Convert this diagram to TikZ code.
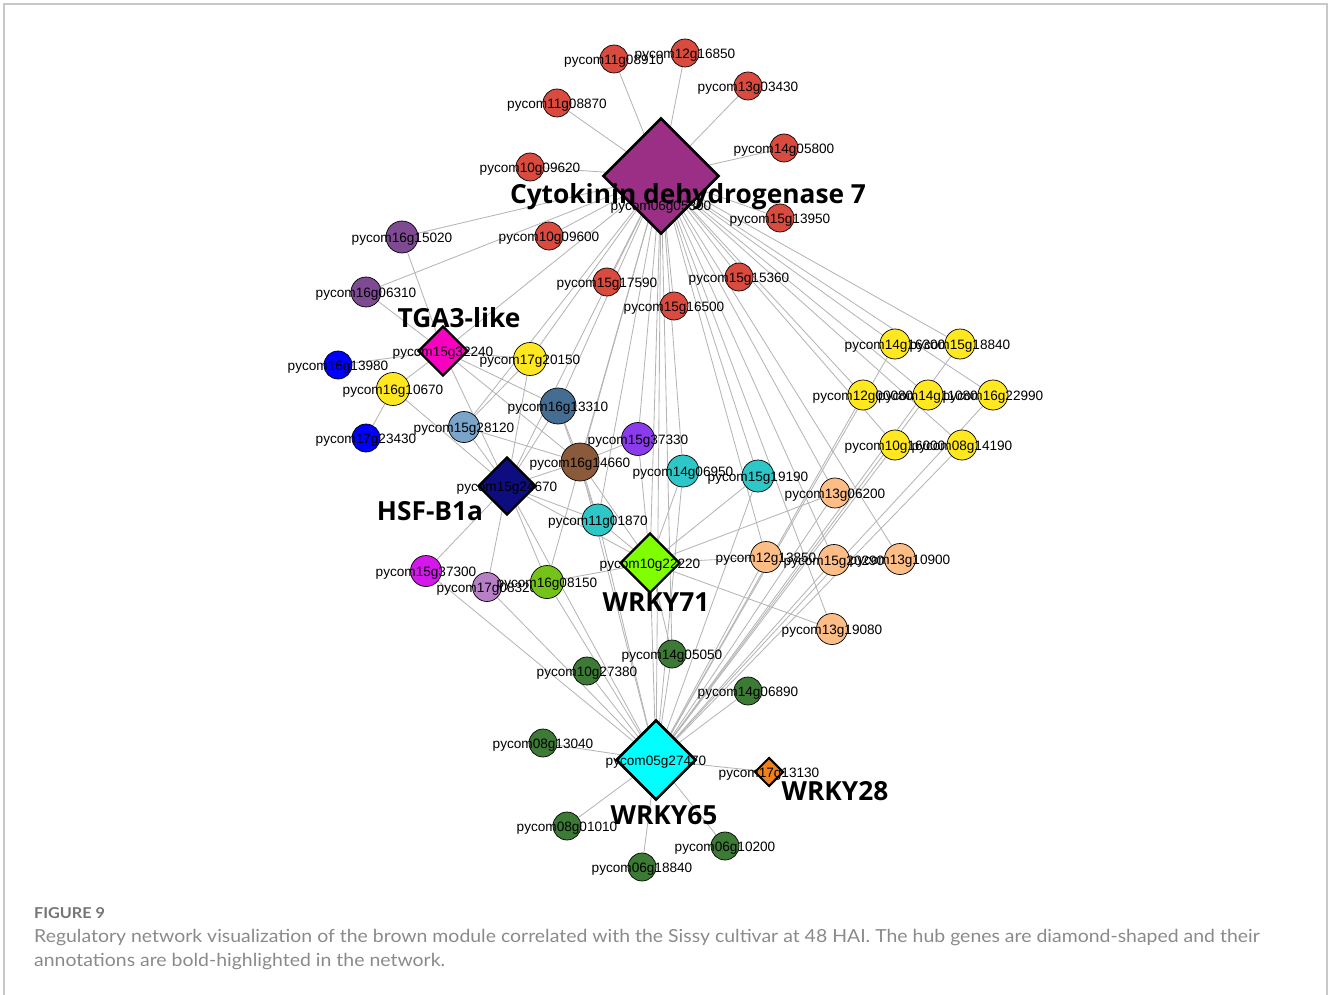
\documentclass[tikz,border=0pt]{standalone}
\usepackage{fontspec}
\usetikzlibrary{shapes.geometric,backgrounds}
\newfontfamily\genefont{Liberation Sans}
\newfontfamily\hubfont{Open Sans}
\newfontfamily\capfont[FakeStretch=1.08]{Lato}
\definecolor{linkgray}{HTML}{B5B5B5}
\definecolor{framegray}{HTML}{C8C8C8}
\definecolor{capgray}{HTML}{8A8A8A}
\definecolor{ckxpurple}{HTML}{9B2F86}
\definecolor{ckred}{HTML}{D94A3F}
\definecolor{plum}{HTML}{7E4B93}
\definecolor{hotpink}{HTML}{F700C0}
\definecolor{pureblue}{HTML}{0000FF}
\definecolor{gold}{HTML}{FFE81F}
\definecolor{steel}{HTML}{456D91}
\definecolor{lightsteel}{HTML}{7AA4C9}
\definecolor{violet}{HTML}{8A3BEB}
\definecolor{bark}{HTML}{8A5A3A}
\definecolor{teal}{HTML}{2EC7C7}
\definecolor{navy}{HTML}{0D0D80}
\definecolor{peach}{HTML}{FCBD86}
\definecolor{lime}{HTML}{80FF00}
\definecolor{fuchsia}{HTML}{D417EB}
\definecolor{orchid}{HTML}{B67FC6}
\definecolor{grass}{HTML}{74C21A}
\definecolor{forest}{HTML}{3D7A36}
\definecolor{aqua}{HTML}{00FFFF}
\definecolor{amber}{HTML}{F08018}
\tikzset{
  gene/.style={circle, draw=black, line width=0.7pt, minimum size=28pt, inner sep=0pt},
  hub/.style={diamond, draw=black, line width=2.6pt, inner sep=0pt, aspect=1},
  hubname/.style={font=\fontsize{26.3}{30}\selectfont\hubfont\bfseries, inner sep=0pt},
  link/.style={draw=linkgray, line width=0.85pt},
  every label/.style={font=\fontsize{13.6}{15}\selectfont\genefont, inner sep=0pt, yshift=-2pt}
}
\begin{document}
\begin{tikzpicture}[x=1pt,y=-1pt]
\useasboundingbox (0,0) rectangle (1328,995);
\draw[framegray, line width=1.2pt] (4,995) -- (4,4) -- (1327,4) -- (1327,995);

% hub genes
\node[hub, fill=ckxpurple, minimum size=116pt, label={[yshift=-29pt]center:pycom06g05300}] (ckx) at (661,176) {};
\node[hub, fill=hotpink, minimum size=50pt, line width=2.2pt, label=center:pycom15g32240] (tga) at (443,351) {};
\node[hub, fill=navy, minimum size=58pt, line width=2.2pt, label=center:pycom15g24670] (hsf) at (507,486) {};
\node[hub, fill=lime, minimum size=60pt, line width=2.2pt, label=center:pycom10g22220] (w71) at (650,563) {};
\node[hub, fill=aqua, minimum size=80pt, label=center:pycom05g27470] (w65) at (656,760) {};
\node[hub, fill=amber, minimum size=29pt, line width=2pt, label=center:pycom17g13130] (w28) at (769,772) {};

% red cluster
\node[gene, fill=ckred, label=center:pycom11g08910] (p11g08910) at (614,59) {};
\node[gene, fill=ckred, label=center:pycom12g16850] (p12g16850) at (685,53) {};
\node[gene, fill=ckred, label=center:pycom13g03430] (p13g03430) at (748,86) {};
\node[gene, fill=ckred, label=center:pycom11g08870] (p11g08870) at (557,103) {};
\node[gene, fill=ckred, label=center:pycom14g05800] (p14g05800) at (784,148) {};
\node[gene, fill=ckred, label=center:pycom10g09620] (p10g09620) at (530,167) {};
\node[gene, fill=ckred, label=center:pycom15g13950] (p15g13950) at (780,218) {};
\node[gene, fill=ckred, label=center:pycom10g09600] (p10g09600) at (549,236) {};
\node[gene, fill=ckred, label=center:pycom15g17590] (p15g17590) at (607,282) {};
\node[gene, fill=ckred, label=center:pycom15g15360] (p15g15360) at (739,277) {};
\node[gene, fill=ckred, label=center:pycom15g16500] (p15g16500) at (674,306) {};

% left side
\node[gene, fill=plum, minimum size=32pt, label=center:pycom16g15020] (p16g15020) at (402,237) {};
\node[gene, fill=plum, minimum size=30pt, label=center:pycom16g06310] (p16g06310) at (366,292) {};
\node[gene, fill=pureblue, label=center:pycom16g13980] (p16g13980) at (338,365) {};
\node[gene, fill=gold, minimum size=33pt, label=center:pycom16g10670] (p16g10670) at (393,389) {};
\node[gene, fill=pureblue, label=center:pycom17g23430] (p17g23430) at (366,438) {};
\node[gene, fill=gold, minimum size=33pt, label=center:pycom17g20150] (p17g20150) at (530,359) {};
\node[gene, fill=lightsteel, minimum size=31pt, label=center:pycom15g28120] (p15g28120) at (464,427) {};
\node[gene, fill=steel, minimum size=36pt, label=center:pycom16g13310] (p16g13310) at (558,406) {};
\node[gene, fill=violet, minimum size=33pt, label=center:pycom15g37330] (p15g37330) at (638,439) {};
\node[gene, fill=bark, minimum size=38pt, label=center:pycom16g14660] (p16g14660) at (580,462) {};
\node[gene, fill=teal, minimum size=32pt, label=center:pycom14g06950] (p14g06950) at (683,471) {};
\node[gene, fill=teal, minimum size=32pt, label=center:pycom15g19190] (p15g19190) at (758,476) {};
\node[gene, fill=teal, minimum size=32pt, label=center:pycom11g01870] (p11g01870) at (598,520) {};
\node[gene, fill=fuchsia, minimum size=31pt, label=center:pycom15g37300] (p15g37300) at (426,571) {};
\node[gene, fill=orchid, minimum size=29pt, label=center:pycom17g08320] (p17g08320) at (487,587) {};
\node[gene, fill=grass, minimum size=33pt, label=center:pycom16g08150] (p16g08150) at (547,582) {};

% yellow cluster
\node[gene, fill=gold, minimum size=30pt, label=center:pycom14g16300] (p14g16300) at (895,344) {};
\node[gene, fill=gold, minimum size=30pt, label=center:pycom15g18840] (p15g18840) at (960,344) {};
\node[gene, fill=gold, minimum size=30pt, label=center:pycom12g00080] (p12g00080) at (863,395) {};
\node[gene, fill=gold, minimum size=30pt, label=center:pycom14g11080] (p14g11080) at (928,395) {};
\node[gene, fill=gold, minimum size=30pt, label=center:pycom16g22990] (p16g22990) at (993,395) {};
\node[gene, fill=gold, minimum size=30pt, label=center:pycom10g16000] (p10g16000) at (895,445) {};
\node[gene, fill=gold, minimum size=30pt, label=center:pycom08g14190] (p08g14190) at (962,445) {};

% peach cluster
\node[gene, fill=peach, minimum size=30pt, label=center:pycom13g06200] (p13g06200) at (835,493) {};
\node[gene, fill=peach, minimum size=31pt, label=center:pycom12g13850] (p12g13850) at (766,557) {};
\node[gene, fill=peach, minimum size=31pt, label=center:pycom15g20290] (p15g20290) at (834,560) {};
\node[gene, fill=peach, minimum size=31pt, label=center:pycom13g10900] (p13g10900) at (900,559) {};
\node[gene, fill=peach, minimum size=31pt, label=center:pycom13g19080] (p13g19080) at (832,629) {};

% green cluster
\node[gene, fill=forest, label=center:pycom14g05050] (p14g05050) at (672,654) {};
\node[gene, fill=forest, label=center:pycom10g27380] (p10g27380) at (587,671) {};
\node[gene, fill=forest, label=center:pycom14g06890] (p14g06890) at (748,691) {};
\node[gene, fill=forest, label=center:pycom08g13040] (p08g13040) at (543,743) {};
\node[gene, fill=forest, label=center:pycom08g01010] (p08g01010) at (567,826) {};
\node[gene, fill=forest, label=center:pycom06g10200] (p06g10200) at (725,846) {};
\node[gene, fill=forest, label=center:pycom06g18840] (p06g18840) at (642,867) {};

% annotations
\node[hubname] (ckxname) at (688,197) {Cytokinin dehydrogenase 7};
\node[hubname] (tganame) at (459,318) {TGA3-like};
\node[hubname] (hsfname) at (430,511) {HSF-B1a};
\node[hubname] (w71name) at (656,602) {WRKY71};
\node[hubname] (w65name) at (664,815) {WRKY65};
\node[hubname] (w28name) at (835,791) {WRKY28};

\begin{pgfonlayer}{background}
% Cytokinin dehydrogenase 7
\draw[link] (ckx) -- (p11g08910);
\draw[link] (ckx) -- (p12g16850);
\draw[link] (ckx) -- (p13g03430);
\draw[link] (ckx) -- (p11g08870);
\draw[link] (ckx) -- (p14g05800);
\draw[link] (ckx) -- (p10g09620);
\draw[link] (ckx) -- (p15g13950);
\draw[link] (ckx) -- (p10g09600);
\draw[link] (ckx) -- (p15g17590);
\draw[link] (ckx) -- (p15g15360);
\draw[link] (ckx) -- (p15g16500);
\draw[link] (ckx) -- (p16g15020);
\draw[link] (ckx) -- (p16g06310);
\draw[link] (ckx) -- (tga);
\draw[link] (ckx) -- (p17g20150);
\draw[link] (ckx) -- (p15g28120);
\draw[link] (ckx) -- (hsf);
\draw[link] (ckx) -- (p16g13310);
\draw[link] (ckx) -- (p16g14660);
\draw[link] (ckx) -- (p15g37330);
\draw[link] (ckx) -- (p14g06950);
\draw[link] (ckx) -- (p15g19190);
\draw[link] (ckx) -- (p11g01870);
\draw[link] (ckx) -- (w71);
\draw[link] (ckx) -- (w65);
\draw[link] (ckx) -- (p16g08150);
\draw[link] (ckx) -- (p14g05050);
\draw[link] (ckx) -- (p14g16300);
\draw[link] (ckx) -- (p15g18840);
\draw[link] (ckx) -- (p12g00080);
\draw[link] (ckx) -- (p14g11080);
\draw[link] (ckx) -- (p16g22990);
\draw[link] (ckx) -- (p10g16000);
\draw[link] (ckx) -- (p08g14190);
\draw[link] (ckx) -- (p13g06200);
\draw[link] (ckx) -- (p12g13850);
\draw[link] (ckx) -- (p15g20290);
\draw[link] (ckx) -- (p13g10900);
\draw[link] (ckx) -- (p13g19080);
% TGA3-like
\draw[link] (tga) -- (p16g15020);
\draw[link] (tga) -- (p16g06310);
\draw[link] (tga) -- (p16g13980);
\draw[link] (tga) -- (p16g10670);
\draw[link] (tga) -- (p17g20150);
\draw[link] (tga) -- (p16g13310);
\draw[link] (tga) -- (p16g14660);
\draw[link] (tga) -- (hsf);
\draw[link] (p16g10670) -- (p17g23430);
\draw[link] (p16g10670) -- (hsf);
% HSF-B1a
\draw[link] (hsf) -- (p15g28120);
\draw[link] (hsf) -- (p17g20150);
\draw[link] (hsf) -- (p16g13310);
\draw[link] (hsf) -- (p16g14660);
\draw[link] (hsf) -- (p11g01870);
\draw[link] (hsf) -- (w71);
\draw[link] (hsf) -- (p15g37300);
\draw[link] (hsf) -- (p17g08320);
\draw[link] (hsf) -- (p16g08150);
\draw[link] (hsf) -- (w65);
\draw[link] (p15g28120) -- (p17g20150);
\draw[link] (p15g28120) -- (p16g14660);
\draw[link] (p16g13310) -- (p16g14660);
\draw[link] (p16g13310) -- (p11g01870);
\draw[link] (p16g14660) -- (p15g37330);
\draw[link] (p16g14660) -- (p11g01870);
% WRKY71
\draw[link] (w71) -- (p16g14660);
\draw[link] (w71) -- (p15g37330);
\draw[link] (w71) -- (p14g06950);
\draw[link] (w71) -- (p15g19190);
\draw[link] (w71) -- (p11g01870);
\draw[link] (w71) -- (p13g06200);
\draw[link] (w71) -- (p12g13850);
\draw[link] (w71) -- (p13g19080);
\draw[link] (w71) -- (p16g08150);
\draw[link] (w71) -- (p14g05050);
\draw[link] (w71) -- (w65);
% WRKY65
\draw[link] (w65) -- (p16g14660);
\draw[link] (w65) -- (p11g01870);
\draw[link] (w65) -- (p14g06950);
\draw[link] (w65) -- (p15g19190);
\draw[link] (w65) -- (p16g08150);
\draw[link] (w65) -- (p15g37300);
\draw[link] (w65) -- (p17g08320);
\draw[link] (w65) -- (p10g27380);
\draw[link] (w65) -- (p14g05050);
\draw[link] (w65) -- (p14g06890);
\draw[link] (w65) -- (p08g13040);
\draw[link] (w65) -- (p08g01010);
\draw[link] (w65) -- (p06g10200);
\draw[link] (w65) -- (p06g18840);
\draw[link] (w65) -- (w28);
\draw[link] (w65) -- (p14g16300);
\draw[link] (w65) -- (p15g18840);
\draw[link] (w65) -- (p12g00080);
\draw[link] (w65) -- (p14g11080);
\draw[link] (w65) -- (p16g22990);
\draw[link] (w65) -- (p10g16000);
\draw[link] (w65) -- (p08g14190);
\draw[link] (w65) -- (p13g06200);
\draw[link] (w65) -- (p15g20290);
\draw[link] (w65) -- (p12g13850);
\end{pgfonlayer}

% caption
\node[anchor=base west, inner sep=0pt, text=capgray!85!black, font=\fontsize{15}{17}\selectfont\capfont\bfseries] (figno) at (34,918) {FIGURE 9};
\node[anchor=base west, inner sep=0pt, text=capgray, font=\fontsize{18}{22}\selectfont\capfont] (capA) at (34,942) {Regulatory network visualization of the brown module correlated with the Sissy cultivar at 48 HAI. The hub genes are diamond-shaped and their};
\node[anchor=base west, inner sep=0pt, text=capgray, font=\fontsize{18}{22}\selectfont\capfont] (capB) at (34,966) {annotations are bold-highlighted in the network.};
\end{tikzpicture}
\end{document}
